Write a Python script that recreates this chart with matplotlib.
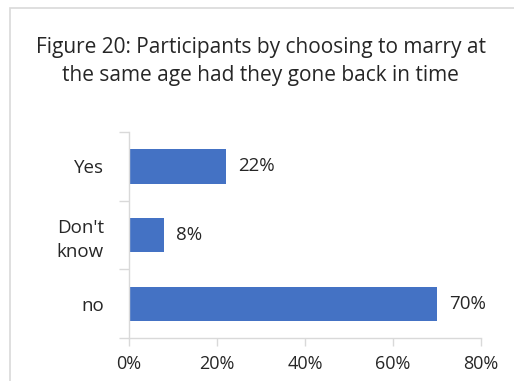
import matplotlib
matplotlib.use('Agg')
import matplotlib.pyplot as plt
from matplotlib.patches import Rectangle

# data
categories = ['Yes', "Don't\nknow", 'no']
values = [22, 8, 70]
value_labels = ['22%', '8%', '70%']
x_ticks = [0, 20, 40, 60, 80]
x_tick_labels = ['0%', '20%', '40%', '60%', '80%']
title_lines = ['Figure 20: Participants by choosing to marry at',
               'the same age had they gone back in time']

W, H = 514, 381
BAR_COLOR = '#4472c4'
GRID_COLOR = '#d9d9d9'
TEXT_COLOR = '#262626'

plt.rcParams['font.family'] = ['Open Sans', 'DejaVu Sans']

fig = plt.figure(figsize=(W / 100, H / 100), dpi=100)

# chart frame (cut off at right and bottom in the original)
fig.patches.append(Rectangle((10 / W, -0.1), 1.1, 1 - 8 / H + 0.1,
                             transform=fig.transFigure, fill=False,
                             edgecolor=GRID_COLOR, linewidth=1.2))

fig.text(260.5 / W, 1 - 47 / H, title_lines[0], ha='center', va='center',
         fontsize=15, color=TEXT_COLOR)
fig.text(260.5 / W, 1 - 75 / H, title_lines[1], ha='center', va='center',
         fontsize=15, color=TEXT_COLOR)

ax = fig.add_axes([129 / W, 1 - 338 / H, (481 - 129) / W, (338 - 132) / H])
pos = list(range(len(categories)))
ax.barh(pos, values, height=0.5, color=BAR_COLOR)
for p, v, lab in zip(pos, values, value_labels):
    ax.text(v + 2.7, p, lab, va='center', ha='left', fontsize=13.5, color=TEXT_COLOR)

ax.set_xlim(0, 80)
ax.set_ylim(len(categories) - 0.5, -0.5)
ax.set_xticks(x_ticks)
ax.set_xticklabels(x_tick_labels)
ax.set_yticks([p - 0.5 for p in pos] + [len(categories) - 0.5])
ax.set_yticklabels([])
ax.set_yticks(pos, minor=True)
ax.set_yticklabels(categories, minor=True, linespacing=1.4)

for s in ['top', 'right']:
    ax.spines[s].set_visible(False)
for s in ['left', 'bottom']:
    ax.spines[s].set_color(GRID_COLOR)
    ax.spines[s].set_linewidth(1)

ax.tick_params(axis='x', colors=GRID_COLOR, length=6, width=1, labelsize=13,
               labelcolor=TEXT_COLOR, pad=6)
ax.tick_params(axis='y', which='major', colors=GRID_COLOR, length=7, width=1)
ax.tick_params(axis='y', which='minor', length=0, labelsize=13.5,
               labelcolor=TEXT_COLOR, pad=18)
for lab in ax.get_yticklabels(minor=True):
    lab.set_multialignment('right')

fig.savefig('out.png', dpi=100)
